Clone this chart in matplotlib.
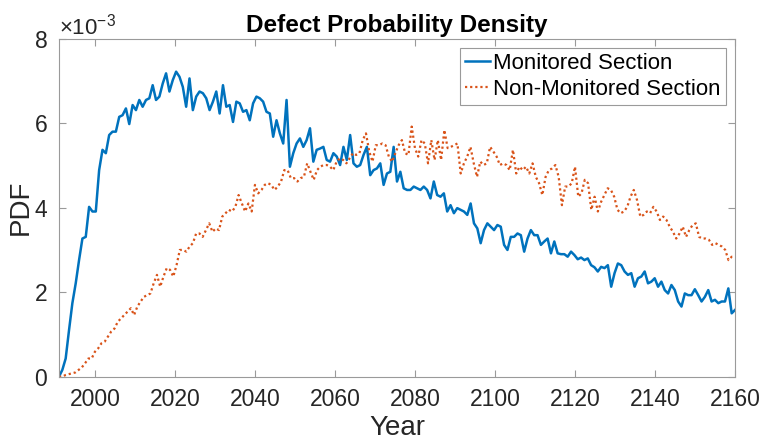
import matplotlib
matplotlib.use("Agg")
import matplotlib.pyplot as plt
import numpy as np
from matplotlib.ticker import ScalarFormatter

plt.rcParams['font.family'] = ['Liberation Sans', 'DejaVu Sans']
plt.rcParams['mathtext.fontset'] = 'custom'
plt.rcParams['mathtext.rm'] = 'Liberation Sans'

# PDF values in units of 1e-3
monitored = [
    0, 0.16, 0.43, 1.10, 1.74, 2.21, 2.76, 3.27, 3.31, 4.02, 3.91, 3.91, 4.89, 5.37, 5.29, 5.72, 5.80, 5.80,
    6.15, 6.19, 6.35, 5.98, 6.43, 6.31, 6.55, 6.39, 6.55, 6.59, 6.90, 6.55, 6.63, 6.94, 7.18, 6.75, 7.02, 7.22,
    7.10, 6.86, 6.39, 7.06, 6.31, 6.63, 6.75, 6.71, 6.59, 6.31, 6.51, 6.75, 6.23, 6.90, 6.39, 6.43,
    6.03, 6.51, 6.47, 6.27, 6.31, 6.07, 6.47, 6.63, 6.59, 6.51, 6.27, 6.23, 5.68, 6.07, 5.76, 5.52, 6.55, 4.97,
    5.29, 5.52, 5.64, 5.44, 5.60, 5.88, 5.09, 5.37, 5.40, 5.44, 5.13, 5.09, 5.29, 5.21, 5.01, 5.44, 5.13, 5.72,
    5.05, 4.97, 5.01, 5.25, 5.44, 4.77, 4.89, 4.93, 5.05, 4.54, 4.81, 4.85, 5.44, 4.62,
    4.85, 4.46, 4.42, 4.42, 4.50, 4.46, 4.42, 4.50, 4.42, 4.22, 4.62, 4.30, 4.26, 4.34, 3.91, 4.06, 3.87, 3.99,
    3.95, 3.91, 3.83, 4.10, 3.63, 3.51, 3.16, 3.47, 3.63, 3.55, 3.47, 3.59, 3.55, 3.12, 3.00, 3.31, 3.31, 3.39,
    3.35, 2.96, 3.27, 3.47, 3.35, 3.35, 3.12, 3.20, 3.27, 2.92, 3.20, 2.92, 2.90, 2.90, 2.84,
    2.96, 2.88, 2.78, 2.82, 2.76, 2.80, 2.64, 2.59, 2.49, 2.60, 2.57, 2.64, 2.13, 2.45, 2.68, 2.64, 2.49, 2.41,
    2.45, 2.13, 2.33, 2.37, 2.49, 2.21, 2.25, 2.33, 2.13, 2.25, 2.05, 1.97, 2.17, 2.05, 1.78, 1.66, 1.97, 1.93,
    1.93, 2.07, 1.93, 1.78, 1.89, 2.05, 1.78, 1.82, 1.74, 1.78, 1.78, 2.09, 1.50, 1.58,
]
non_monitored = [
    0, 0, 0.04, 0.06, 0.08, 0.10, 0.16, 0.22, 0.32, 0.43, 0.43, 0.59, 0.67, 0.79, 0.83, 0.95, 1.07, 1.14,
    1.30, 1.38, 1.46, 1.54, 1.62, 1.46, 1.66, 1.78, 1.89, 1.93, 1.97, 2.21, 2.41, 2.13, 2.37, 2.57, 2.53, 2.37,
    2.64, 3.00, 3.00, 2.96, 3.08, 3.16, 3.39, 3.39, 3.31, 3.47, 3.63, 3.43, 3.51, 3.47, 3.79,
    3.87, 3.95, 3.91, 4.02, 4.30, 4.10, 3.91, 4.10, 3.91, 4.54, 4.34, 4.42, 4.54, 4.58, 4.54, 4.42, 4.50, 4.62,
    4.89, 4.89, 4.70, 4.70, 4.62, 4.70, 4.73, 5.05, 4.85, 4.66, 4.89, 4.97, 5.01, 5.01, 4.97, 4.89, 5.09, 5.17,
    5.13, 5.05, 5.17, 5.29, 5.25, 5.29, 5.60, 5.76, 5.33, 5.09, 5.48, 5.48, 5.52, 5.48, 5.21, 5.09,
    5.29, 5.48, 5.60, 5.29, 5.25, 5.92, 5.41, 5.21, 5.60, 5.52, 5.05, 5.60, 5.13, 5.60, 5.13, 5.84, 5.41, 5.44,
    5.48, 5.52, 4.81, 5.05, 5.21, 5.44, 5.05, 4.73, 5.09, 5.01, 5.05, 5.44, 5.33, 5.21, 5.01, 5.05, 5.01, 4.89,
    5.37, 4.81, 4.97, 4.89, 4.97, 4.81, 5.05, 4.73, 4.58, 4.30, 4.73, 4.89, 4.93, 5.01, 4.73, 4.06, 4.50, 4.50,
    4.58, 4.97, 4.26, 4.34, 4.66, 4.58, 3.95, 4.26, 3.91, 4.14, 4.30, 4.46, 4.42, 4.26, 3.95, 3.87, 3.91, 4.02,
    4.26, 4.42, 4.18, 3.79, 3.83, 3.91, 3.87, 4.02, 3.91, 3.71, 3.79, 3.71, 3.55, 3.43, 3.27, 3.39, 3.55, 3.31,
    3.47, 3.59, 3.63, 3.31, 3.27, 3.27, 3.24, 3.12, 3.16, 3.12, 3.08, 3.00, 2.76, 2.84, 2.84,
]
year_start, year_end = 1991, 2160
xticks = list(range(2000, 2161, 20))
yticks = [0, 0.002, 0.004, 0.006, 0.008]

yr_m = np.linspace(year_start, year_end, len(monitored))
yr_n = np.linspace(year_start, year_end, len(non_monitored))

fig = plt.figure(figsize=(7.62, 4.44), dpi=100)
ax = fig.add_axes([0.0774, 0.1516, 0.8872, 0.7612])

ax.plot(yr_m, np.array(monitored) * 1e-3, color='#0072BD', lw=1.8, label='Monitored Section')
ax.plot(yr_n, np.array(non_monitored) * 1e-3, color='#D95319', lw=1.6, ls=(0, (1, 1.3)),
        label='Non-Monitored Section')

ax.set_xlim(year_start, year_end)
ax.set_ylim(0, 0.008)
ax.set_xticks(xticks)
ax.set_yticks(yticks)

fmt = ScalarFormatter(useMathText=True)
fmt.set_powerlimits((-2, 2))
ax.yaxis.set_major_formatter(fmt)
ax.yaxis.get_offset_text().set_fontsize(16)
ax.yaxis.get_offset_text().set_color('#262626')

for s in ax.spines.values():
    s.set_color('#9a9a9a')
    s.set_linewidth(0.8)
ax.tick_params(direction='in', length=5, width=0.8, color='#9a9a9a', labelsize=16.5,
               labelcolor='#262626', top=True, right=True, pad=8)

ax.set_xlabel('Year', fontsize=20, color='#262626', labelpad=3)
ax.set_ylabel('PDF', fontsize=20, color='#262626', labelpad=0)
ax.set_title('Defect Probability Density', fontsize=17.5, fontweight='bold', pad=5)

leg = ax.legend(loc='upper right', fontsize=16, fancybox=False, framealpha=1,
                edgecolor='#9a9a9a', borderaxespad=0.4, handlelength=1.1,
                handletextpad=0.15, borderpad=0.25, labelspacing=0.2)
leg.get_frame().set_linewidth(0.8)

fig.savefig('out.png', dpi=100)
